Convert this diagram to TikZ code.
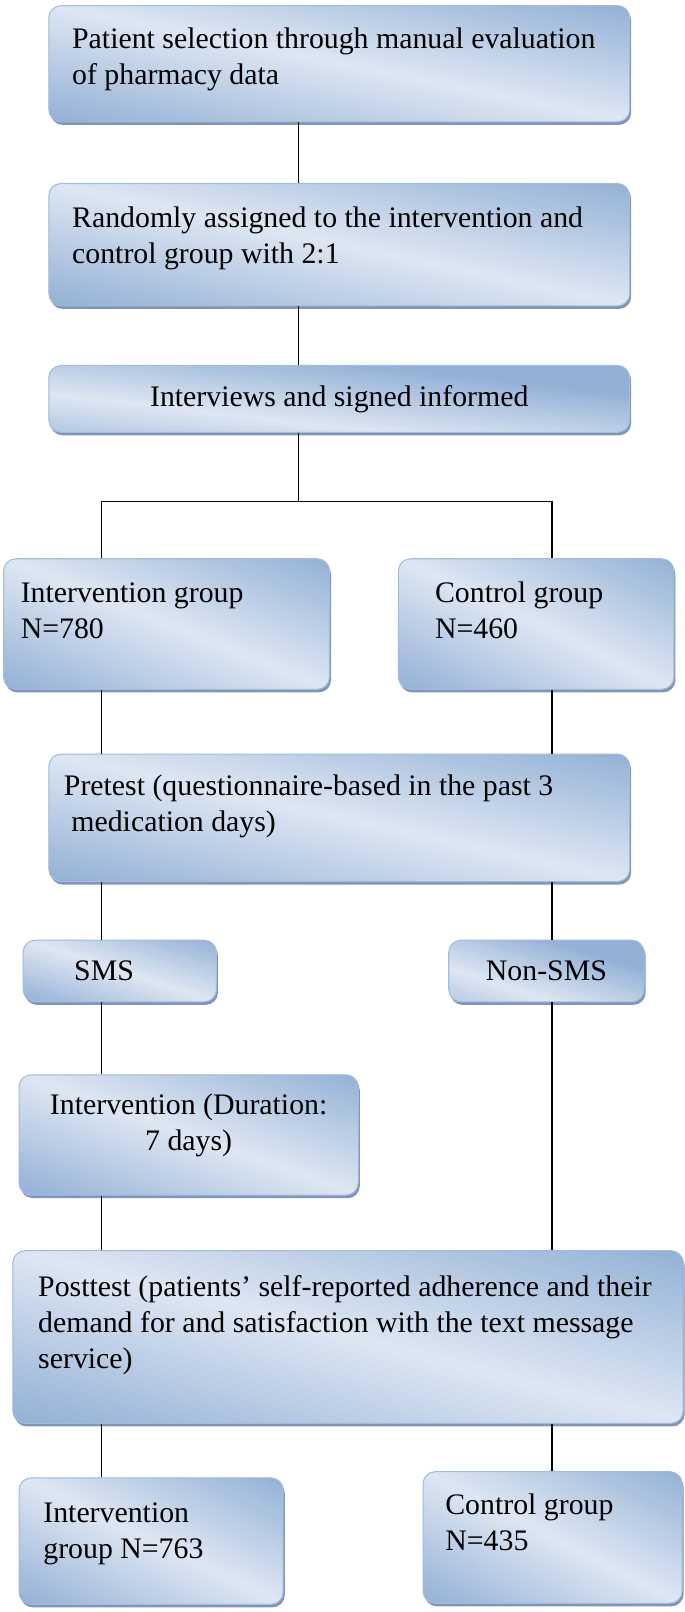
\documentclass[tikz,border=0pt]{standalone}
\usepackage{fontspec}
\setmainfont{Liberation Serif}
\usetikzlibrary{shadows}

\definecolor{boxdark}{RGB}{147,177,214}
\definecolor{boxlight}{RGB}{222,231,243}
\definecolor{boxedge}{RGB}{160,188,222}
\definecolor{boxshadow}{RGB}{128,150,184}

\tikzset{
  % box of given width/height; light band along the diagonal, dark corners
  flowbox/.style 2 args={rectangle, rounded corners=12pt, draw=boxedge, line width=1pt,
    minimum width=#1, minimum height=#2, fill=boxdark,
    path picture={
      \begin{scope}[shift={(path picture bounding box.center)}, x=#1pt, y=#2pt]
        % strips of constant u+v (u, v run -1/2..1/2 over the box)
        \foreach \i in {0,...,49}{
          \pgfmathsetmacro{\sa}{\i/25-1}
          \pgfmathsetmacro{\sb}{(\i+1.3)/25-1}
          \pgfmathtruncatemacro{\bandpct}{100*(1-abs((\i+0.5)/25-1))}
          \fill[boxlight!\bandpct!boxdark] (\sa+1,-1) -- (\sb+1,-1) -- (\sb-1,1) -- (\sa-1,1) -- cycle;
        }
      \end{scope}},
    drop shadow={shadow xshift=1.5pt, shadow yshift=-3pt, fill=boxshadow, opacity=1},
    anchor=north west, inner sep=0pt},
  boxtext/.style={font=\fontsize{29}{35}\selectfont, align=left, inner sep=0pt},
  link/.style={line width=1.2pt}
}

\begin{document}
\begin{tikzpicture}[x=1pt, y=-1pt]

    % Fix the page to the size of the flowchart
    \useasboundingbox (0,0) rectangle (666,1568);

    % Columns the connectors run along
    \coordinate (mcol) at (290,0);
    \coordinate (lcol) at (99,0);
    \coordinate (rcol) at (537,0);

    % Top chain
    \node[flowbox={565}{113},
      label={[boxtext, anchor=north west, xshift=23, yshift=-17.5]north west:{\strut Patient selection through manual evaluation\\of pharmacy data}}]
      (select) at (47,5) {};
    \node[flowbox={565}{119},
      label={[boxtext, anchor=north west, xshift=23, yshift=-19]north west:{\strut Randomly assigned to the intervention and\\control group with 2:1}}]
      (assign) at (47,178) {};
    \node[flowbox={565}{65}, boxtext]
      (consent) at (47,355) {Interviews and signed informed};

    % Two groups
    \node[flowbox={317}{127},
      label={[boxtext, anchor=north west, xshift=17, yshift=-18]north west:{\strut Intervention group\\N=780}}]
      (interA) at (3,543) {};
    \node[flowbox={268}{127},
      label={[boxtext, anchor=north west, xshift=36, yshift=-18]north west:{\strut Control group\\N=460}}]
      (controlA) at (387,543) {};

    \node[flowbox={565}{124},
      label={[boxtext, anchor=north west, xshift=15, yshift=-16]north west:{\strut Pretest (questionnaire-based in the past 3\\ \ medication days)}}]
      (pretest) at (47,733) {};

    \node[flowbox={188}{60},
      label={[boxtext, anchor=west, xshift=50]west:SMS}]
      (sms) at (22,914) {};
    \node[flowbox={190}{60}, boxtext, align=center]
      (nonsms) at (436,914) {Non-SMS};

    \node[flowbox={330}{117},
      label={[boxtext, align=center, anchor=north, yshift=-14]north:{\strut Intervention (Duration:\\7 days)}}]
      (duration) at (18,1045) {};

    \node[flowbox={652}{168},
      label={[boxtext, anchor=north west, xshift=25, yshift=-20]north west:{\strut Posttest (patients’ self-reported adherence and their\\demand for and satisfaction with the text message\\service)}}]
      (posttest) at (12,1216) {};

    % Final groups
    \node[flowbox={257}{123},
      label={[boxtext, anchor=north west, xshift=24, yshift=-19]north west:{\strut Intervention\\group N=763}}]
      (interB) at (18,1437) {};
    \node[flowbox={252}{128},
      label={[boxtext, anchor=north west, xshift=22, yshift=-17]north west:{\strut Control group\\N=435}}]
      (controlB) at (411,1431) {};

    % Connectors
    \draw[link] (select.south -| mcol) -- (assign.north -| mcol);
    \draw[link] (assign.south -| mcol) -- (consent.north -| mcol);
    \coordinate (fork) at (290,488);
    \draw[link] (consent.south -| mcol) -- (fork);
    \draw[link] (interA.north -| lcol) |- (fork) -| (controlA.north -| rcol);
    \draw[link] (interA.south -| lcol) -- (pretest.north -| lcol);
    \draw[link] (controlA.south -| rcol) -- (pretest.north -| rcol);
    \draw[link] (pretest.south -| lcol) -- (sms.north -| lcol);
    \draw[link] (pretest.south -| rcol) -- (nonsms.north -| rcol);
    \draw[link] (sms.south -| lcol) -- (duration.north -| lcol);
    \draw[link] (duration.south -| lcol) -- (posttest.north -| lcol);
    \draw[link] (nonsms.south -| rcol) -- (posttest.north -| rcol);
    \draw[link] (posttest.south -| lcol) -- (interB.north -| lcol);
    \draw[link] (posttest.south -| rcol) -- (controlB.north -| rcol);

\end{tikzpicture}
\end{document}
